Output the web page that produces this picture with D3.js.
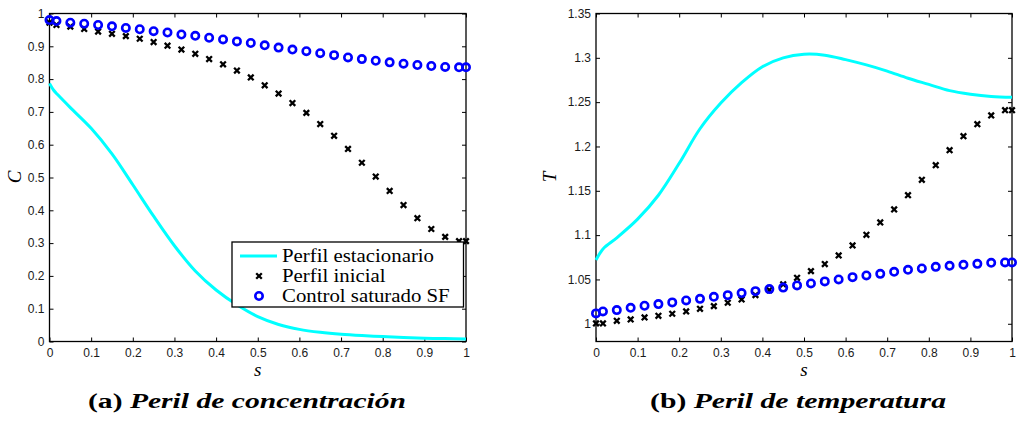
<!DOCTYPE html>
<html>
<head>
<meta charset="utf-8">
<script src="https://cdn.jsdelivr.net/npm/d3@7"></script>
<style>
  html, body { margin: 0; padding: 0; background: #fff; }
  svg { display: block; }
  .tick text { font-family: "Liberation Sans", Arial, sans-serif; font-size: 12px; fill: #1a1a1a; }
  .serif { font-family: "Liberation Serif", "Times New Roman", serif; }
</style>
</head>
<body>
<svg id="chart" width="1018" height="446"></svg>
<script>
// ---------------- data ----------------
const sMarkers = [0, 0.0167, 0.05, 0.0833, 0.1167, 0.15, 0.1833, 0.2167, 0.25, 0.2833, 0.3167, 0.35,
  0.3833, 0.4167, 0.45, 0.4833, 0.5167, 0.55, 0.5833, 0.6167, 0.65, 0.6833, 0.7167, 0.75,
  0.7833, 0.8167, 0.85, 0.8833, 0.9167, 0.95, 0.9833, 1];

const concSF = [0.980, 0.977, 0.972, 0.969, 0.965, 0.961, 0.956, 0.952, 0.946, 0.942, 0.936, 0.932,
  0.926, 0.921, 0.915, 0.910, 0.903, 0.896, 0.890, 0.885, 0.879, 0.873, 0.866, 0.861,
  0.856, 0.851, 0.847, 0.843, 0.840, 0.837, 0.836, 0.836];

const concInit = [0.972, 0.965, 0.960, 0.953, 0.945, 0.938, 0.931, 0.923, 0.913, 0.902, 0.890, 0.877,
  0.861, 0.845, 0.826, 0.805, 0.781, 0.756, 0.727, 0.697, 0.663, 0.627, 0.587, 0.545,
  0.503, 0.459, 0.416, 0.376, 0.343, 0.319, 0.306, 0.306];

const tempSF = [1.0117, 1.0139, 1.0154, 1.0180, 1.0203, 1.0222, 1.0241, 1.0263, 1.0281, 1.0304, 1.0323, 1.0346,
  1.0368, 1.0391, 1.0408, 1.0433, 1.0455, 1.0478, 1.0500, 1.0526, 1.0545, 1.0563, 1.0586, 1.0609,
  1.0624, 1.0642, 1.0654, 1.0665, 1.0676, 1.0688, 1.0692, 1.0692];

const tempInit = [1.0004, 1.0004, 1.0033, 1.0049, 1.0071, 1.0090, 1.0113, 1.0139, 1.0169, 1.0199, 1.0237, 1.0275,
  1.0323, 1.0380, 1.0445, 1.0518, 1.0594, 1.0673, 1.0771, 1.0884, 1.1003, 1.1143, 1.1290, 1.1451,
  1.1624, 1.1789, 1.1958, 1.2116, 1.2251, 1.2350, 1.2409, 1.2409];

const sLine = [0, 0.01, 0.02, 0.05, 0.1, 0.15, 0.2, 0.25, 0.3, 0.35, 0.4, 0.45, 0.5,
  0.55, 0.6, 0.65, 0.7, 0.75, 0.8, 0.85, 0.9, 0.95, 1];

const concSteady = [0.787, 0.766, 0.752, 0.713, 0.650, 0.572, 0.478, 0.382, 0.292, 0.215, 0.157, 0.112, 0.076,
  0.052, 0.037, 0.028, 0.022, 0.018, 0.015, 0.012, 0.010, 0.009, 0.008];

const tempSteady = [1.072, 1.080, 1.086, 1.097, 1.118, 1.145, 1.181, 1.220, 1.249, 1.272, 1.290, 1.300, 1.304,
  1.303, 1.298, 1.292, 1.285, 1.277, 1.270, 1.263, 1.259, 1.2565, 1.2556];

const xTicks = [0, 0.1, 0.2, 0.3, 0.4, 0.5, 0.6, 0.7, 0.8, 0.9, 1];
const xTickLabels = ["0", "0.1", "0.2", "0.3", "0.4", "0.5", "0.6", "0.7", "0.8", "0.9", "1"];
const yTicksC = [0, 0.1, 0.2, 0.3, 0.4, 0.5, 0.6, 0.7, 0.8, 0.9, 1];
const yTickLabelsC = ["0", "0.1", "0.2", "0.3", "0.4", "0.5", "0.6", "0.7", "0.8", "0.9", "1"];
const yTicksT = [1, 1.05, 1.1, 1.15, 1.2, 1.25, 1.3, 1.35];
const yTickLabelsT = ["1", "1.05", "1.1", "1.15", "1.2", "1.25", "1.3", "1.35"];

const legendLabels = ["Perfil estacionario", "Perfil inicial", "Control saturado SF"];
const captions = [["(a)", " Peril de concentración"], ["(b)", " Peril de temperatura"]];

// ---------------- drawing ----------------
const svg = d3.select("#chart");
const CYAN = "#00ffff", BLUE = "#0000ff";

function crossPath(cx, cy, h) {
  return `M${cx - h},${cy - h}L${cx + h},${cy + h}M${cx - h},${cy + h}L${cx + h},${cy - h}`;
}

function panel(cfg) {
  const g = svg.append("g");
  const x = d3.scaleLinear().domain([0, 1]).range([cfg.left, cfg.right]);
  const y = d3.scaleLinear().domain(cfg.yDomain).range([cfg.bottom, cfg.top]);

  const ax = (gen, tr) => g.append("g").attr("transform", tr).call(gen)
    .call(s => s.select(".domain").remove())
    .call(s => s.selectAll(".tick line").attr("stroke", "#000").attr("stroke-width", 1));

  ax(d3.axisBottom(x).tickValues(xTicks).tickSize(-4).tickPadding(7)
      .tickFormat((d, i) => xTickLabels[i]), `translate(0,${cfg.bottom})`);
  ax(d3.axisTop(x).tickValues(xTicks).tickSize(-4).tickFormat(""), `translate(0,${cfg.top})`);
  ax(d3.axisLeft(y).tickValues(cfg.yTicks).tickSize(-4).tickPadding(5)
      .tickFormat((d, i) => cfg.yLabels[i]), `translate(${cfg.left},0)`);
  ax(d3.axisRight(y).tickValues(cfg.yTicks).tickSize(-4).tickFormat(""), `translate(${cfg.right},0)`);

  g.append("rect").attr("x", cfg.left).attr("y", cfg.top)
    .attr("width", cfg.right - cfg.left).attr("height", cfg.bottom - cfg.top)
    .attr("fill", "none").attr("stroke", "#000").attr("stroke-width", 1.3);

  const plot = g.append("g");

  const line = d3.line().x((d, i) => x(sLine[i])).y(d => y(d)).curve(d3.curveCatmullRom.alpha(0.5));
  plot.append("path").datum(cfg.line).attr("d", line)
    .attr("fill", "none").attr("stroke", CYAN).attr("stroke-width", 3)
    .attr("stroke-linejoin", "round");

  plot.append("g").selectAll("path").data(cfg.crosses).join("path")
    .attr("d", (d, i) => crossPath(x(sMarkers[i]), y(d), 2.8))
    .attr("stroke", "#000").attr("stroke-width", 2.3).attr("fill", "none");

  plot.append("g").selectAll("circle").data(cfg.circles).join("circle")
    .attr("cx", (d, i) => x(sMarkers[i])).attr("cy", d => y(d)).attr("r", 3.7)
    .attr("fill", "none").attr("stroke", BLUE).attr("stroke-width", 2.6);

  g.append("text").attr("class", "serif").attr("x", (cfg.left + cfg.right) / 2).attr("y", 376)
    .attr("text-anchor", "middle")
    .style("font-style", "italic").style("font-size", "19px").text("s");
  g.append("text").attr("class", "serif")
    .attr("transform", `translate(${cfg.left - cfg.yLabelOff},177) rotate(-90)`)
    .attr("text-anchor", "middle")
    .style("font-style", "italic").style("font-size", "19px").text(cfg.yName);

  return { x, y, g };
}

panel({ id: "a", left: 49.5, right: 466, top: 13.5, bottom: 341.5, yDomain: [0, 1], yLabelOff: 29,
  yTicks: yTicksC, yLabels: yTickLabelsC, line: concSteady, crosses: concInit, circles: concSF, yName: "C" });

panel({ id: "b", left: 596, right: 1012, top: 13.5, bottom: 341.5, yDomain: [0.98, 1.35], yLabelOff: 40,
  yTicks: yTicksT, yLabels: yTickLabelsT, line: tempSteady, crosses: tempInit, circles: tempSF, yName: "T" });

// legend (left panel)
const lg = svg.append("g");
lg.append("rect").attr("x", 232).attr("y", 242).attr("width", 231.5).attr("height", 65)
  .attr("fill", "#fff").attr("stroke", "#000").attr("stroke-width", 1.3);
const rowY = [256, 276, 296];
lg.append("line").attr("x1", 240).attr("x2", 277).attr("y1", rowY[0]).attr("y2", rowY[0])
  .attr("stroke", CYAN).attr("stroke-width", 3);
lg.append("path").attr("d", crossPath(259, rowY[1], 2.8)).attr("stroke", "#000").attr("stroke-width", 2.3);
lg.append("circle").attr("cx", 259).attr("cy", rowY[2]).attr("r", 3.7)
  .attr("fill", "none").attr("stroke", BLUE).attr("stroke-width", 2.6);
const legTexts = lg.selectAll("text.leg").data(legendLabels).join("text")
  .attr("class", "leg serif")
  .attr("x", 282).attr("y", (d, i) => rowY[i] + 6)
  .style("font-family", "'Liberation Serif', 'Times New Roman', serif")
  .style("font-size", "18px").attr("fill", "#000")
  .text(d => d);
{
  const nodes = legTexts.nodes();
  const r = 152 / nodes[0].getComputedTextLength();
  nodes.forEach(n => {
    const w = n.getComputedTextLength();
    d3.select(n).attr("textLength", w * r).attr("lengthAdjust", "spacingAndGlyphs");
  });
}

// captions
const capCenters = [247, 798];
const capWidths = [318, 296];
captions.forEach((c, i) => {
  const t = svg.append("text").attr("class", "serif")
    .attr("x", capCenters[i] - capWidths[i] / 2).attr("y", 408)
    .style("font-weight", "bold").style("font-size", "20px").attr("fill", "#000");
  t.append("tspan").text(c[0]);
  t.append("tspan").style("font-style", "italic").text(c[1]);
  t.attr("textLength", capWidths[i]).attr("lengthAdjust", "spacingAndGlyphs");
});
</script>
</body>
</html>
